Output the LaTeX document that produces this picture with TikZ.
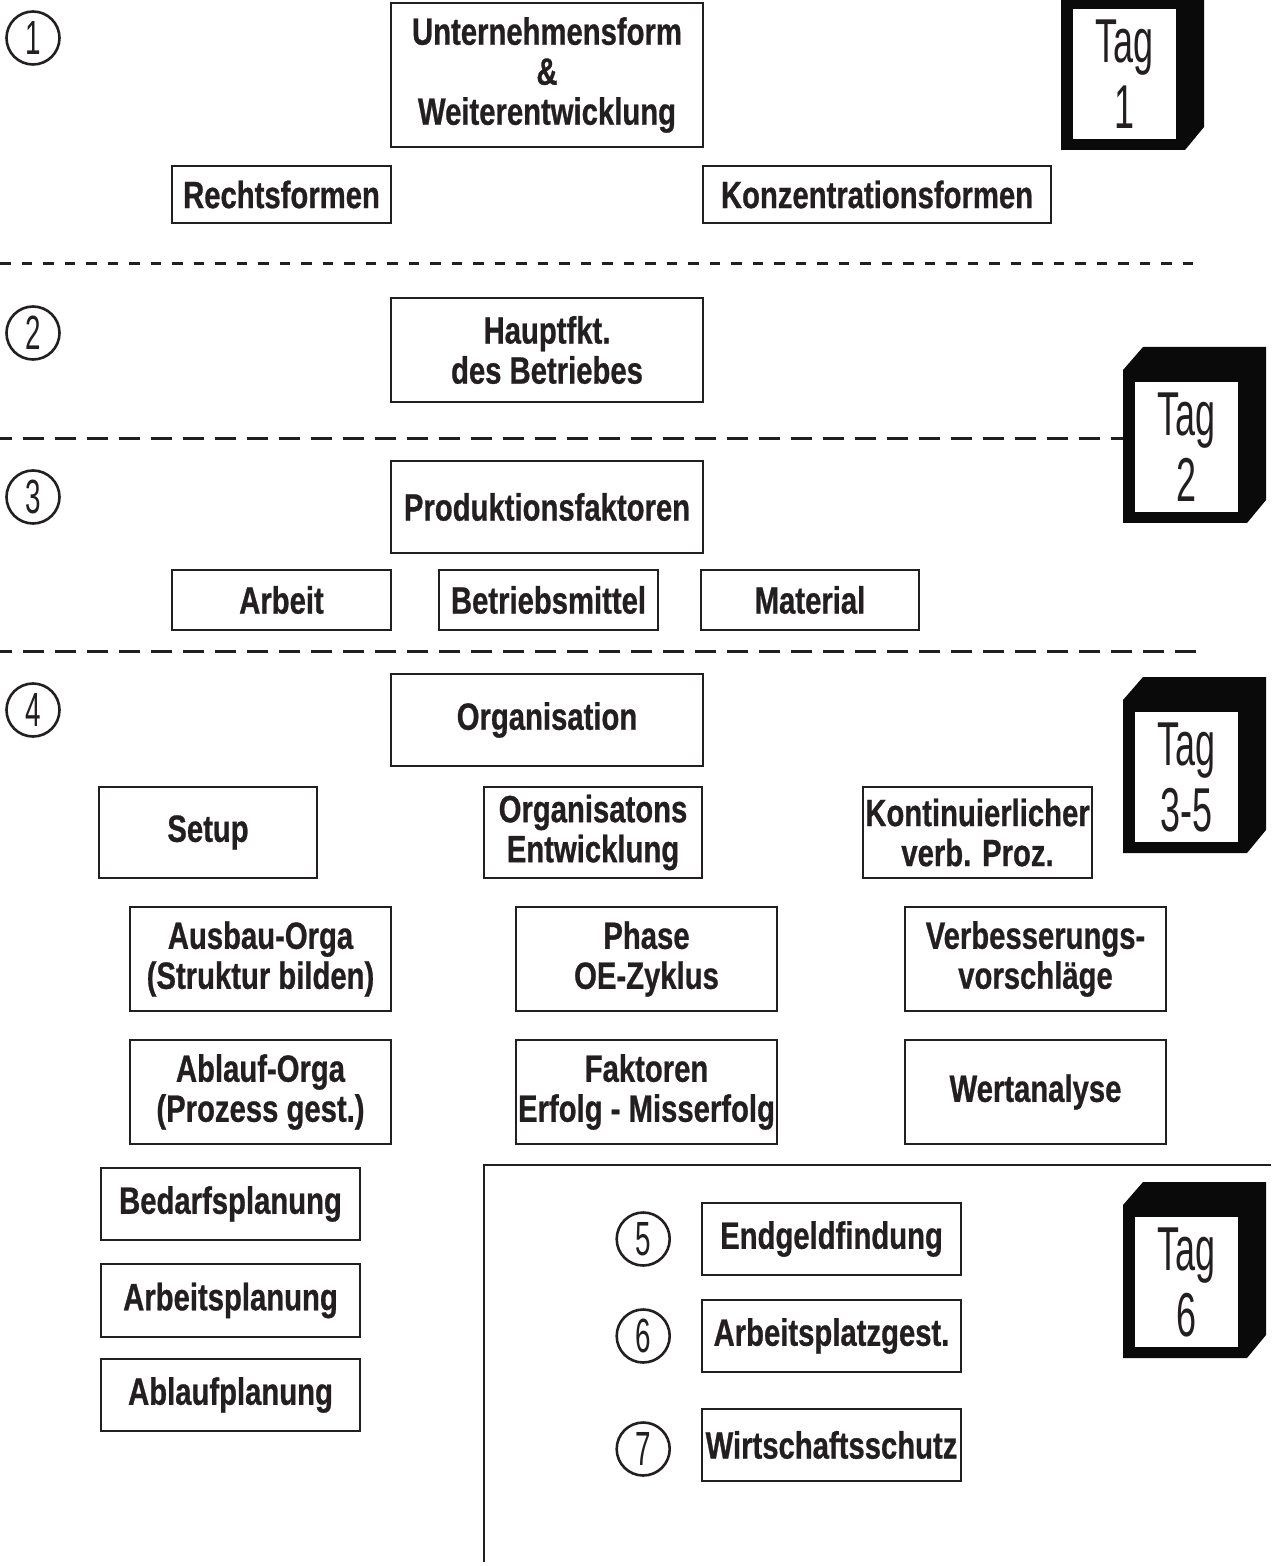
\documentclass[tikz,border=0pt]{standalone}
\usepackage{fontspec}
\setmainfont{Liberation Sans}[FakeStretch=0.77,BoldFeatures={FakeBold=0.7}]
\newfontfamily\tagfont{Liberation Sans}[FakeStretch=0.58]
\usetikzlibrary{positioning}
\definecolor{ink}{HTML}{231F20}
\definecolor{tagblack}{HTML}{0A0A0A}

\begin{document}
\begin{tikzpicture}[x=0.5pt,y=-0.5pt,ink,
box node/.style={draw=ink,line width=1pt,align=center,inner sep=0pt,text=ink,font=\bfseries\fontsize{19}{20}\selectfont},
num node/.style={circle,draw=ink,line width=1.3pt,minimum size=26.5pt,inner sep=0pt,text=ink,font=\tagfont\fontsize{24}{24}\selectfont},
tag node/.style={fill=white,minimum width=51.5pt,minimum height=65pt,inner sep=0pt,align=center,text=ink,font=\tagfont\fontsize{31}{33}\selectfont},
sep line/.style={draw=ink,line width=1.5pt}]
\clip (0,0) rectangle (1271,1566);
\useasboundingbox (0,0) rectangle (1271,1566);

% separators
\draw[sep line,dash pattern=on 5.25pt off 5.5pt] (0,264) -- (1200,264);
\draw[sep line,dash pattern=on 10.75pt off 5.25pt,dash phase=4.75pt] (0,439) -- (1123,439);
\draw[sep line,dash pattern=on 10.75pt off 5.25pt,dash phase=4.75pt] (0,651) -- (1200,651);
\draw[line width=1pt] (484,1562) -- (484,1165) -- (1271,1165);

% 1
\node[num node] (n1) at (33,38) {1};
\node[box node,minimum width=156pt,minimum height=72pt] (unternehmen) at (547,75) {Unternehmensform\\\&\\Weiterentwicklung};
\node[box node,minimum width=109.5pt,minimum height=28.5pt] (rechtsformen) at (281.5,194.5) {Rechtsformen};
\node[box node,minimum width=174pt,minimum height=28.5pt] (konzentration) at (877,194.5) {Konzentrationsformen};

% 2
\node[num node] (n2) at (33,333) {2};
\node[box node,minimum width=156pt,minimum height=52pt] (hauptfkt) at (547,350) {Hauptfkt.\\des Betriebes};

% 3
\node[num node] (n3) at (33,497) {3};
\node[box node,minimum width=156pt,minimum height=46pt] (produktion) at (547,507) {Produktionsfaktoren};
\node[box node,minimum width=109.5pt,minimum height=30pt] (arbeit) at (281.5,600) {Arbeit};
\node[box node,minimum width=109.5pt,minimum height=30pt,right=23pt of arbeit] (betriebsmittel) {Betriebsmittel};
\node[box node,minimum width=109pt,minimum height=30pt,right=20.5pt of betriebsmittel] (material) {Material};

% 4
\node[num node] (n4) at (33,710) {4};
\node[box node,minimum width=156pt,minimum height=46pt] (organisation) at (547,720) {Organisation};
\node[box node,minimum width=109pt,minimum height=45.5pt] (setup) at (208,832.5) {Setup};
\node[box node,minimum width=109pt,minimum height=45.5pt] (oe) at (593,832.5) {Organisatons\\Entwicklung};
\node[box node,minimum width=114.5pt,minimum height=45.5pt] (kvp) at (977.5,832.5) {Kontinuierlicher\\verb. Proz.};
\node[box node,minimum width=130.5pt,minimum height=52pt] (ausbau) at (260.5,959) {Ausbau-Orga\\(Struktur bilden)};
\node[box node,minimum width=130.5pt,minimum height=52pt,below=13.5pt of ausbau] (ablauforga) {Ablauf-Orga\\(Prozess gest.)};
\node[box node,minimum width=130.5pt,minimum height=52pt] (phase) at (646.5,959) {Phase\\OE-Zyklus};
\node[box node,minimum width=130.5pt,minimum height=52pt,below=13.5pt of phase] (faktoren) {Faktoren\\Erfolg - Misserfolg};
\node[box node,minimum width=130.5pt,minimum height=52pt] (verbesserung) at (1035.5,959) {Verbesserungs-\\vorschläge};
\node[box node,minimum width=130.5pt,minimum height=52pt,below=13.5pt of verbesserung] (wertanalyse) {Wertanalyse};
\node[box node,minimum width=129.5pt,minimum height=36pt] (bedarf) at (230.5,1204) {Bedarfsplanung};
\node[box node,minimum width=129.5pt,minimum height=36.5pt,below=11pt of bedarf] (arbeitsplanung) {Arbeitsplanung};
\node[box node,minimum width=129.5pt,minimum height=36pt,below=10pt of arbeitsplanung] (ablaufplanung) {Ablaufplanung};

% 5-7
\node[box node,minimum width=129.5pt,minimum height=36pt] (endgeld) at (831.5,1239) {Endgeldfindung};
\node[box node,minimum width=129.5pt,minimum height=36pt,below=11.5pt of endgeld] (arbeitsplatz) {Arbeitsplatzgest.};
\node[box node,minimum width=129.5pt,minimum height=36pt,below=17.5pt of arbeitsplatz] (wirtschaft) {Wirtschaftsschutz};
\node[num node,left=15pt of endgeld] (n5) {5};
\node[num node,left=15pt of arbeitsplatz] (n6) {6};
\node[num node,left=15pt of wirtschaft,yshift=-2pt] (n7) {7};

% day blocks
\foreach \tagname/\xo/\yo/\daytxt in {tag1/1061/-26/1,tag2/1123/347/2,tag35/1123/677/3-5,tag6/1123/1182/6}{
\begin{scope}[shift={(\xo,\yo)}]
\fill[tagblack] (0,23) -- (20,0) -- (143,0) -- (143,153) -- (124,176) -- (0,176) -- cycle;
\node[tag node] (\tagname) at (63.5,100) {Tag\\\daytxt};
\end{scope}
}
\end{tikzpicture}
\end{document}
